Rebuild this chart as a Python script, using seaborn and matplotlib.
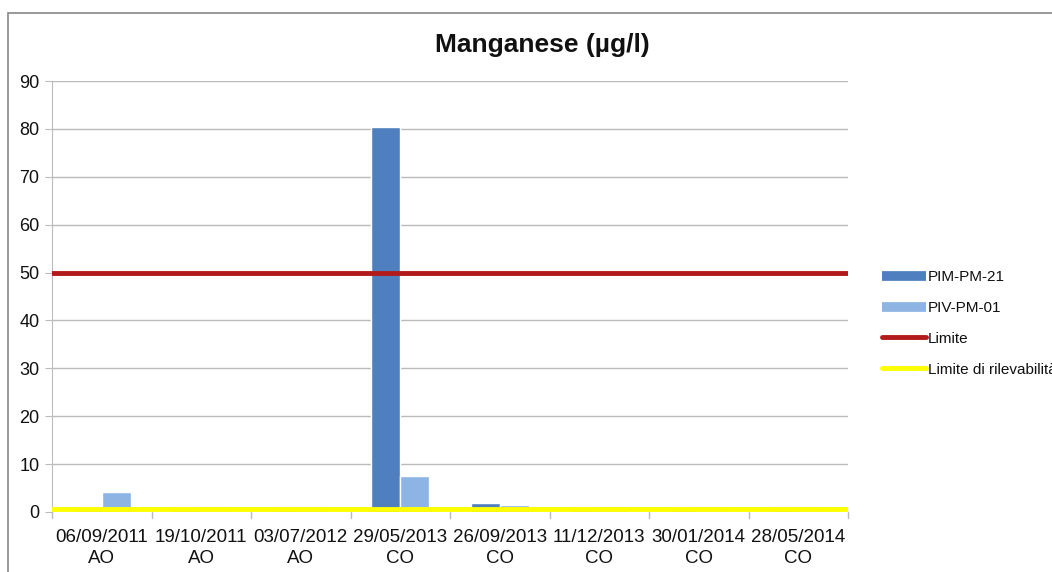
import pandas as pd
import matplotlib
matplotlib.use("Agg")
import matplotlib.pyplot as plt
import seaborn as sns
from matplotlib.lines import Line2D
from matplotlib.patches import Rectangle

# data
dates = ["06/09/2011\nAO", "19/10/2011\nAO", "03/07/2012\nAO", "29/05/2013\nCO",
         "26/09/2013\nCO", "11/12/2013\nCO", "30/01/2014\nCO", "28/05/2014\nCO"]
pim_pm_21 = [0.5, 0.5, 0.5, 80.3, 1.8, 0.5, 0.5, 0.5]
piv_pm_01 = [4.2, 0.5, 1.1, 7.5, 1.5, 1.3, 0.5, 0.5]
limite = 50
limite_rilevabilita = 0.6

series = ["PIM-PM-21", "PIV-PM-01"]
colors = ["#4F7FBF", "#8DB4E2"]

df = pd.DataFrame({
    "data": dates * 2,
    "valore": pim_pm_21 + piv_pm_01,
    "serie": [series[0]] * len(dates) + [series[1]] * len(dates),
})

sns.set_style("white")
plt.rcParams["font.family"] = ["Liberation Sans", "DejaVu Sans"]
plt.rcParams["text.color"] = "#111111"

fig = plt.figure(figsize=(10.52, 5.72), dpi=100)
ax = fig.add_axes([52 / 1052, 1 - 512 / 572, (848 - 52) / 1052, (512 - 81) / 572])

sns.barplot(data=df, x="data", y="valore", hue="serie", palette=colors,
            width=0.58, gap=0, saturation=1, ax=ax, legend=False)

ax.axhline(limite, color="#B31B1B", lw=3.5, zorder=5)
ax.axhline(limite_rilevabilita, color="#FFFF00", lw=3.5, zorder=5)

ax.set_xlim(-0.5, len(dates) - 0.5)
ax.set_ylim(0, 90)
ax.set_yticks(range(0, 91, 10))
ax.yaxis.grid(True, color="#BBBBBB", lw=1)
ax.set_axisbelow(True)
ax.set_xlabel("")
ax.set_ylabel("")
fig.text(542 / 1052, 1 - 45 / 572, "Manganese (µg/l)", fontsize=19, fontweight="bold",
         ha="center", va="center")

for s in ["top", "right", "bottom"]:
    ax.spines[s].set_visible(False)
ax.spines["left"].set_color("#BBBBBB")

ax.tick_params(axis="y", labelsize=13, labelcolor="#111111", length=5,
               color="#BBBBBB", pad=4, left=True)
ax.tick_params(axis="x", labelsize=13.5, labelcolor="#111111", length=0, pad=12)
ax.set_xticks(range(len(dates)))
ax.set_xticklabels(dates, linespacing=1.35)
# tick marks at category boundaries
for b in range(len(dates) + 1):
    ax.plot([b - 0.5, b - 0.5], [0, -1.3], color="#BBBBBB", lw=1, clip_on=False)

handles = [
    Line2D([0], [0], color=colors[0], lw=7, solid_capstyle="butt"),
    Line2D([0], [0], color=colors[1], lw=7, solid_capstyle="butt"),
    Line2D([0], [0], color="#B31B1B", lw=3.5),
    Line2D([0], [0], color="#FFFF00", lw=3.5),
]
labels = series + ["Limite", "Limite di rilevabilità"]
fig.legend(handles, labels, loc="upper left", bbox_to_anchor=(876 / 1052, 1 - 264 / 572),
           frameon=False, fontsize=11, handlelength=2.9, handletextpad=0.1,
           labelspacing=1.1, borderaxespad=0)

# outer chart frame
fig.patches.append(Rectangle((8 / 1052, -0.1), 1.2, 1 - 13 / 572 + 0.1,
                             transform=fig.transFigure, fill=False,
                             edgecolor="#888888", lw=1.2))

fig.savefig("out.png", dpi=100)
